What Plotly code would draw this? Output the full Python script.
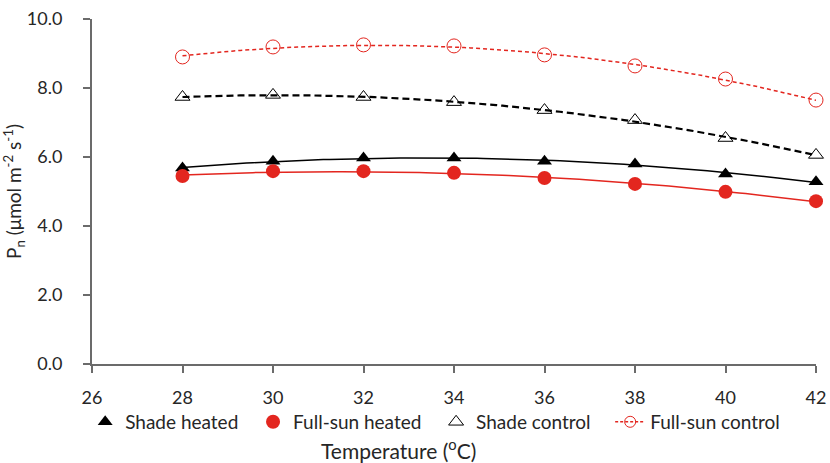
import numpy as np
import plotly.graph_objects as go

temperature = [28, 30, 32, 34, 36, 38, 40, 42]
shade_heated = [5.68, 5.88, 5.97, 5.97, 5.88, 5.80, 5.51, 5.28]
fullsun_heated = [5.45, 5.59, 5.59, 5.54, 5.39, 5.22, 4.99, 4.72]
shade_control = [7.74, 7.80, 7.74, 7.59, 7.36, 7.07, 6.55, 6.06]
fullsun_control = [8.90, 9.19, 9.25, 9.22, 8.96, 8.64, 8.26, 7.65]

x_ticks = [26, 28, 30, 32, 34, 36, 38, 40, 42]
y_ticks = [0, 2, 4, 6, 8, 10]

FONT = "Lato"
RED = "#e3261f"
BLACK = "#000000"
TXT = "#262626"
NB = "\u00a0"

xfit = np.linspace(min(temperature), max(temperature), 100)


def fit(y):
    c = np.polyfit(temperature, y, 2)
    return np.polyval(c, xfit)


fig = go.Figure()

series = [
    ("Shade heated", shade_heated, BLACK, "triangle-up", BLACK, "solid", 1.5, NB * 2),
    ("Full-sun heated", fullsun_heated, RED, "circle", RED, "solid", 1.5, NB * 2),
    ("Shade control", shade_control, BLACK, "triangle-up-open", BLACK, "7px,4px", 2.2, NB * 3),
    ("Full-sun control", fullsun_control, RED, "circle-open", RED, "4px,3px", 1.5, ""),
]

for name, y, lc, sym, mc, dash, lw, pad in series:
    fig.add_trace(go.Scatter(x=xfit, y=fit(y), mode="lines",
                             line=dict(color=lc, width=lw, dash=dash),
                             showlegend=False, hoverinfo="skip", cliponaxis=False))

for name, y, lc, sym, mc, dash, lw, pad in series:
    is_open = "open" in sym
    fig.add_trace(go.Scatter(
        x=temperature, y=y, mode="markers", name=name + pad,
        marker=dict(symbol=sym, size=14 if "circle" in sym else 13, color=mc,
                    line=dict(color=mc, width=1 if is_open else 0)),
        showlegend=(name != "Full-sun control"), cliponaxis=False))

# legend-only entry for full-sun control (line + marker)
fig.add_trace(go.Scatter(x=[None], y=[None], mode="lines+markers", name="Full-sun control",
                         line=dict(color=RED, width=1.5, dash="3px,2px"),
                         marker=dict(symbol="circle-open", size=11, color=RED, line=dict(width=1))))

axis_color = "#6b6b6b"
fig.update_xaxes(range=[26, 42], tickvals=x_ticks, ticks="outside", ticklen=7, tickwidth=1.5,
                 tickcolor=axis_color, showline=True, linecolor=axis_color, linewidth=2,
                 showgrid=False, zeroline=False, automargin=False, ticklabelstandoff=9,
                 tickfont=dict(family=FONT, size=18, color=TXT))
fig.update_yaxes(range=[0, 10], tickvals=y_ticks, tickformat=".1f", ticks="outside", ticklen=7,
                 tickwidth=1.5, tickcolor=axis_color, showline=True, linecolor=axis_color,
                 linewidth=2, showgrid=False, zeroline=False, automargin=False,
                 ticklabelstandoff=17,
                 tickfont=dict(family=FONT, size=18, color=TXT),
                 title=dict(text="P<sub>n</sub> (μmol m<sup>-2</sup> s<sup>-1</sup>)",
                            font=dict(family=FONT, size=19, color=TXT), standoff=2))

fig.add_annotation(text="Temperature (<sup>o</sup>C)", xref="paper", yref="paper",
                   x=0.424, y=-0.245, yanchor="middle", showarrow=False,
                   font=dict(family=FONT, size=21, color=TXT))

fig.update_layout(
    width=830, height=463,
    margin=dict(l=92, r=14, t=19, b=99, autoexpand=False),
    paper_bgcolor="white", plot_bgcolor="white",
    legend=dict(orientation="h", x=0.474, xanchor="center", y=-0.168, yanchor="middle",
                font=dict(family=FONT, size=19, color=TXT), itemwidth=30,
                tracegroupgap=0, bgcolor="rgba(0,0,0,0)"),
)

fig.write_html("out.html", config={"displayModeBar": False},
               post_script="document.body.style.margin='0';document.body.style.padding='0';")
